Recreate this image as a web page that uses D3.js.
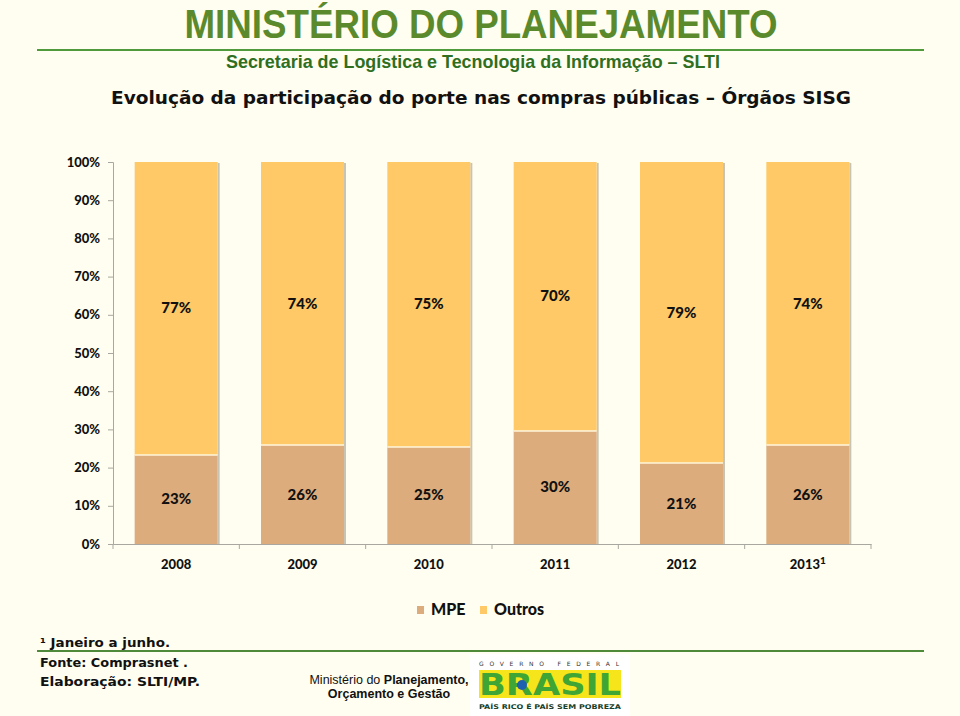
<!DOCTYPE html>
<html><head><meta charset="utf-8">
<script src="https://cdn.jsdelivr.net/npm/d3@7/dist/d3.min.js"></script>
<style>
html,body{margin:0;padding:0;background:#fffef0;}
svg{display:block;}
</style></head>
<body>
<svg id="chart" width="960" height="716"></svg>
<script>
const years = ["2008","2009","2010","2011","2012","2013"];
const yearLabels = ["2008","2009","2010","2011","2012","2013¹"];
const mpe = [23.3, 25.9, 25.4, 29.6, 21.2, 25.9];
const outros = [76.7, 74.1, 74.6, 70.4, 78.8, 74.1];
const mpeLabels = ["23%","26%","25%","30%","21%","26%"];
const outrosLabels = ["77%","74%","75%","70%","79%","74%"];
const yTicks = [0,10,20,30,40,50,60,70,80,90,100];
const seriesNames = ["MPE","Outros"];
const colors = {MPE:"#dcac7c", Outros:"#fec966"};

const svg = d3.select("#chart");
svg.append("rect").attr("width",960).attr("height",716).attr("fill","#fffef0");

// Header
svg.append("text").attr("x",481).attr("y",38).attr("text-anchor","middle")
  .attr("font-family","Liberation Sans, Arial, sans-serif").attr("font-weight","bold")
  .attr("font-size",41).attr("fill","#5b8a2d")
  .attr("textLength",593).attr("lengthAdjust","spacingAndGlyphs")
  .text("MINISTÉRIO DO PLANEJAMENTO");
svg.append("line").attr("x1",37).attr("x2",924).attr("y1",50).attr("y2",50)
  .attr("stroke","#4f9a3a").attr("stroke-width",2);
svg.append("text").attr("x",473).attr("y",68).attr("text-anchor","middle")
  .attr("font-family","Liberation Sans, Arial, sans-serif").attr("font-weight","bold")
  .attr("font-size",19).attr("fill","#2f6f1f")
  .attr("textLength",494).attr("lengthAdjust","spacingAndGlyphs")
  .text("Secretaria de Logística e Tecnologia da Informação – SLTI");
svg.append("text").attr("x",481).attr("y",104).attr("text-anchor","middle")
  .attr("font-family","DejaVu Sans, Verdana, sans-serif").attr("font-weight","bold")
  .attr("font-size",18).attr("fill","#111")
  .attr("textLength",740).attr("lengthAdjust","spacingAndGlyphs")
  .text("Evolução da participação do porte nas compras públicas – Órgãos SISG");

// Scales
const x = d3.scaleBand().domain(years).range([113,871]).paddingInner(0.343).paddingOuter(0.1715);
const y = d3.scaleLinear().domain([0,100]).range([544,162]);

const stackData = years.map((yr,i)=>({year:yr, MPE:mpe[i], Outros:outros[i]}));
const stacked = d3.stack().keys(seriesNames)(stackData);

// shadows
svg.append("g").selectAll("rect").data(stackData).join("rect")
  .attr("x",d=>x(d.year)+x.bandwidth()).attr("y",y(100)+1)
  .attr("width",2).attr("height",y(0)-y(100)-1)
  .attr("fill","#c8c4b4");

const gBars = svg.append("g");
stacked.forEach(s=>{
  gBars.append("g").selectAll("rect").data(s).join("rect")
    .attr("x",d=>x(d.data.year)).attr("y",d=>y(d[1]))
    .attr("width",x.bandwidth()).attr("height",d=>y(d[0])-y(d[1]))
    .attr("fill",colors[s.key]);
});
// separator line
svg.append("g").selectAll("line").data(stackData).join("line")
  .attr("x1",d=>x(d.year)).attr("x2",d=>x(d.year)+x.bandwidth())
  .attr("y1",d=>y(d.MPE)).attr("y2",d=>y(d.MPE))
  .attr("stroke","#fff6dc").attr("stroke-width",1.5);

// value labels
const labelFont = "Lato, 'Open Sans', sans-serif";
const heavy = 900;
stacked.forEach((s,si)=>{
  const labs = si===0 ? mpeLabels : outrosLabels;
  svg.append("g").selectAll("text").data(s).join("text")
    .attr("x",d=>x(d.data.year)+x.bandwidth()/2)
    .attr("y",d=>(y(d[0])+y(d[1]))/2+5)
    .attr("text-anchor","middle").attr("font-family",labelFont)
    .attr("font-weight",heavy).attr("font-size",15).attr("fill","#111")
    .text((d,i)=>labs[i]);
});

// Y axis
const yAxis = svg.append("g").attr("transform","translate(113,0)")
  .call(d3.axisLeft(y).tickValues(yTicks).tickFormat(d=>d+"%").tickSize(5).tickPadding(8));
yAxis.select(".domain").attr("stroke","#a8a8a0");
yAxis.selectAll(".tick line").attr("stroke","#a8a8a0");
yAxis.selectAll("text").attr("font-family",labelFont).attr("font-weight",heavy)
  .attr("font-size",13).attr("fill","#111");

// X axis
const xAxis = svg.append("g").attr("transform","translate(0,544)")
  .call(d3.axisBottom(x).tickSize(0).tickSizeOuter(0).tickFormat(""));
xAxis.select(".domain").attr("stroke","#a8a8a0");
const step = x.step();
const bounds = d3.range(years.length+1).map(i=>113+i*step);
svg.append("g").selectAll("line").data(bounds).join("line")
  .attr("x1",d=>d).attr("x2",d=>d).attr("y1",544).attr("y2",549)
  .attr("stroke","#a8a8a0");
svg.append("g").selectAll("text").data(years).join("text")
  .attr("x",d=>x(d)+x.bandwidth()/2).attr("y",569)
  .attr("text-anchor","middle").attr("font-family",labelFont)
  .attr("font-weight",heavy).attr("font-size",13).attr("fill","#111")
  .each(function(d,i){
    const t = d3.select(this);
    const lab = yearLabels[i];
    if(lab.endsWith("¹")){
      t.append("tspan").text(lab.slice(0,-1));
      t.append("tspan").attr("dy",-5).attr("font-size",10).text("1");
    } else t.text(lab);
  });

// Legend
const legend = svg.append("g");
const legendPos = [{sx:417, tx:431},{sx:480, tx:494}];
seriesNames.forEach((n,i)=>{
  legend.append("rect").attr("x",legendPos[i].sx).attr("y",606).attr("width",7).attr("height",8)
    .attr("fill",colors[n]);
  legend.append("text").attr("x",legendPos[i].tx).attr("y",615)
    .attr("font-family",labelFont).attr("font-weight",heavy).attr("font-size",16)
    .attr("fill","#111").text(n);
});

// Footer
const footFont = "DejaVu Sans, Verdana, sans-serif";
svg.append("text").attr("x",40).attr("y",647).attr("font-family",footFont).attr("font-size",13)
  .attr("font-weight","bold").attr("fill","#111").attr("textLength",130).attr("lengthAdjust","spacingAndGlyphs")
  .text("¹ Janeiro a junho.");
svg.append("line").attr("x1",37).attr("x2",924).attr("y1",651).attr("y2",651)
  .attr("stroke","#4f8a3a").attr("stroke-width",2);
svg.append("text").attr("x",40).attr("y",667).attr("font-family",footFont).attr("font-size",13)
  .attr("font-weight","bold").attr("fill","#111").attr("textLength",148).attr("lengthAdjust","spacingAndGlyphs")
  .text("Fonte: Comprasnet .");
svg.append("text").attr("x",40).attr("y",686).attr("font-family",footFont).attr("font-size",13)
  .attr("font-weight","bold").attr("fill","#111").attr("textLength",160).attr("lengthAdjust","spacingAndGlyphs")
  .text("Elaboração: SLTI/MP.");

const mp = svg.append("text").attr("x",389).attr("y",684).attr("text-anchor","middle")
  .attr("font-family","Liberation Sans, Arial, sans-serif").attr("font-size",12.5).attr("fill","#111");
mp.append("tspan").text("Ministério do ");
mp.append("tspan").attr("font-weight","bold").text("Planejamento,");
svg.append("text").attr("x",389).attr("y",698).attr("text-anchor","middle")
  .attr("font-family","Liberation Sans, Arial, sans-serif").attr("font-size",12.5)
  .attr("font-weight","bold").attr("fill","#111").text("Orçamento e Gestão");

// Logo (Governo Federal - Brasil)
const logo = svg.append("g");
logo.append("rect").attr("x",470).attr("y",654).attr("width",160).attr("height",62).attr("fill","#ffffff");
logo.append("text").attr("x",479).attr("y",666).attr("font-family","DejaVu Sans, sans-serif")
  .attr("font-size",6).attr("fill","#333").attr("textLength",140).attr("lengthAdjust","spacing")
  .text("GOVERNO FEDERAL");
logo.append("rect").attr("x",479).attr("y",670).attr("width",142).attr("height",28).attr("fill","#f6e51a");
logo.append("text").attr("x",550).attr("y",695).attr("text-anchor","middle")
  .attr("font-family","DejaVu Sans, sans-serif").attr("font-weight","bold").attr("font-size",30)
  .attr("fill","#3fa535").attr("textLength",142).attr("lengthAdjust","spacingAndGlyphs")
  .text("BRASIL");
logo.append("circle").attr("cx",522).attr("cy",685).attr("r",5).attr("fill","#1f5fb0");
logo.append("text").attr("x",479).attr("y",709).attr("font-family","DejaVu Sans, sans-serif")
  .attr("font-weight","bold").attr("font-size",6.5).attr("fill","#1a3f2a")
  .attr("textLength",142).attr("lengthAdjust","spacingAndGlyphs")
  .text("PAÍS RICO É PAÍS SEM POBREZA");
</script>
</body></html>
